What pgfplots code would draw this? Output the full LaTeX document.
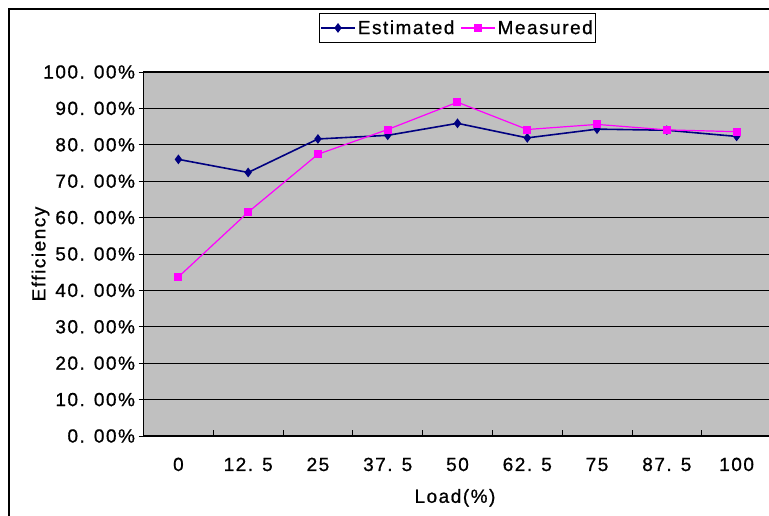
\documentclass[border=0pt]{standalone}
\usepackage{pgfplots}
\pgfplotsset{compat=1.18}
\usepackage{fontspec}
\setmainfont{Liberation Sans}[LetterSpace=8,FakeBold=0.8]
\definecolor{plotbg}{HTML}{C0C0C0}
\definecolor{estc}{HTML}{000080}
\definecolor{measc}{HTML}{FF00FF}
\begin{document}
\begin{tikzpicture}[x=1pt,y=1pt,font=\fontsize{19}{22}\selectfont]
\useasboundingbox (0,0) rectangle (769,516);
\fill[white] (0,0) rectangle (769,516);
\draw[line width=1.5pt] (9,-20) -- (9,507) -- (800,507);
\begin{axis}[
  at={(143.5pt,80pt)}, anchor=south west,
  scale only axis, width=628pt, height=364pt,
  xmin=-0.5, xmax=8.5, ymin=0, ymax=100,
  axis background/.style={fill=plotbg},
  axis line style={black, line width=1pt},
  ymajorgrids, grid style={black, line width=0.9pt},
  ytick={0,10,...,100},
  yticklabels={0. 00\%,10. 00\%,20. 00\%,30. 00\%,40. 00\%,50. 00\%,60. 00\%,70. 00\%,80. 00\%,90. 00\%,100. 00\%},
  ytick pos=left, ytick align=outside,
  major y tick style={black, line width=0.8pt},
  major tick length=5pt,
  xtick={0,...,8},
  xticklabels={0,12. 5,25,37. 5,50,62. 5,75,87. 5,100},
  xtick pos=bottom,
  major x tick style={draw=none},
  minor xtick={0.5,1.5,...,7.5},
  minor x tick style={black, line width=0.8pt},
  minor tick length=6pt,
  xtick align=inside,
  xticklabel style={anchor=base, yshift=-35pt},
  yticklabel style={anchor=east},
  xlabel={Load(\%)},
  ylabel={Efficiency},
  xlabel style={at={(axis description cs:0.496,-0.17)}, anchor=center},
  ylabel style={at={(axis description cs:-0.164,0.5)}, anchor=center},
  legend style={at={(0.5,1.121)}, anchor=center, legend columns=2, draw=black, fill=white, line width=0.8pt, inner xsep=1pt, inner ysep=5pt, /tikz/every even column/.append style={column sep=4pt}},
  legend cell align=left,
  legend image code/.code={\draw[mark repeat=2,mark phase=2] plot coordinates {(0pt,0pt) (17pt,0pt) (34pt,0pt)};},
]
\addplot[estc, line width=1.6pt, mark=diamond*, mark size=3.6pt, mark options={solid}] coordinates {
(0,76.0) (1,72.4) (2,81.6) (3,82.6) (4,85.9) (5,81.9) (6,84.3) (7,84.0) (8,82.3)};
\addlegendentry{Estimated}
\addplot[measc, line width=1.2pt, mark=square*, mark size=3.4pt, mark options={solid}] coordinates {
(0,43.7) (1,61.5) (2,77.4) (3,84.2) (4,91.7) (5,84.2) (6,85.6) (7,84.1) (8,83.6)};
\addlegendentry{Measured}
\end{axis}
\end{tikzpicture}
\end{document}
